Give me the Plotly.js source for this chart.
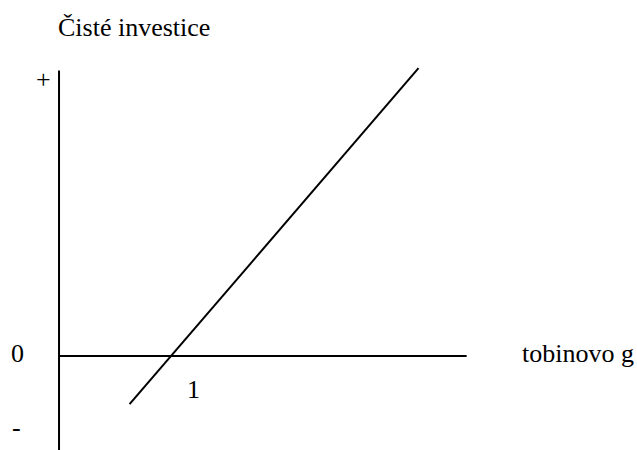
<!DOCTYPE html>
<html>
<head>
<meta charset="utf-8">
<script src="https://cdn.plot.ly/plotly-3.0.1.min.js"></script>
<style>
  html, body { margin: 0; padding: 0; background: #fff; }
  #graph { width: 637px; height: 450px; }
</style>
</head>
<body>
<div id="graph"></div>
<script>
// investment line: net investment against Tobin's q (crosses zero at q = 1)
const tobinQ = [0.63, 3.21];
const netInvestment = [-0.43, 2.57];

// axis extents
const xAxisLine = [0, 3.64];
const yAxisLine = [-0.84, 2.55];

// labels
const xLabel = 'tobinovo g';
const yLabel = 'Čisté investice';
const signLabels = ['+', '0', '-'];
const signLevels = [2.47, 0.02, -0.64];
const unitLabel = '1';
const unitAt = [1.2, -0.3];

class Plot {
  draw() {
    const layout = this.initLayout();
    const plotData = this.createPlotData();
    Plotly.newPlot('graph', plotData, layout, { staticPlot: true });
  }

  textFont() {
    return { family: 'Liberation Serif', size: 26, color: '#000' };
  }

  initLayout() {
    const annotations = [
      { x: -0.03, y: 2.93, text: yLabel, xanchor: 'left' },
      { x: 4.12, y: 0.02, text: xLabel, xanchor: 'left' },
      { x: -0.14, y: signLevels[0], text: signLabels[0], xanchor: 'center' },
      { x: -0.37, y: signLevels[1], text: signLabels[1], xanchor: 'center' },
      { x: -0.38, y: signLevels[2], text: signLabels[2], xanchor: 'center' },
      { x: unitAt[0], y: unitAt[1], text: unitLabel, xanchor: 'center' }
    ].map(a => Object.assign(a, {
      xref: 'x', yref: 'y', yanchor: 'middle', showarrow: false, font: this.textFont()
    }));

    return {
      width: 637,
      height: 450,
      margin: { l: 0, r: 0, t: 0, b: 0 },
      paper_bgcolor: '#fff',
      plot_bgcolor: '#fff',
      showlegend: false,
      font: this.textFont(),
      xaxis: { range: [-0.527, 5.161], visible: false, fixedrange: true },
      yaxis: { range: [-0.839, 3.179], visible: false, fixedrange: true },
      shapes: [
        { type: 'line', xref: 'x', yref: 'y', x0: xAxisLine[0], x1: xAxisLine[1], y0: 0, y1: 0, line: { color: '#000', width: 2 } },
        { type: 'line', xref: 'x', yref: 'y', x0: 0, x1: 0, y0: yAxisLine[0], y1: yAxisLine[1], line: { color: '#000', width: 2 } }
      ],
      annotations: annotations
    };
  }

  createPlotData() {
    return [{
      x: tobinQ,
      y: netInvestment,
      type: 'scatter',
      mode: 'lines',
      line: { color: '#000', width: 2 },
      hoverinfo: 'skip'
    }];
  }
}

new Plot().draw();
</script>
</body>
</html>
